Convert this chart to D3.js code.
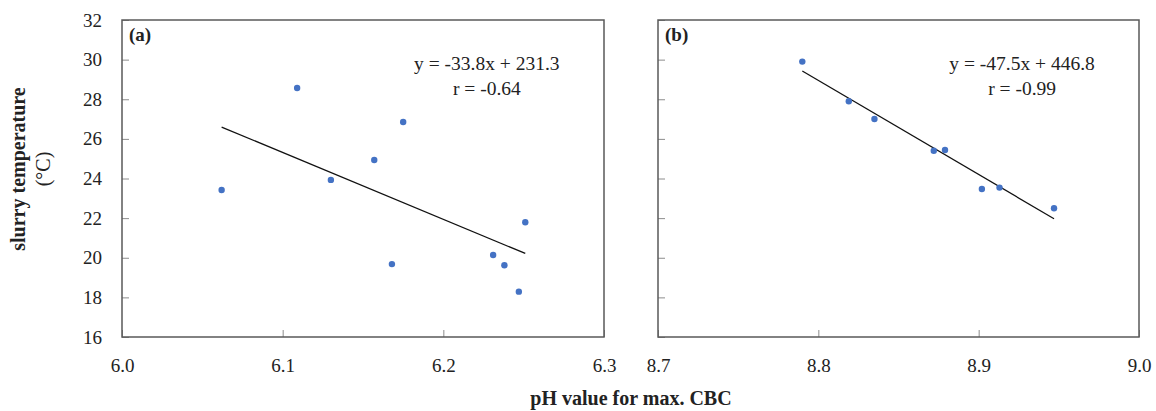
<!DOCTYPE html>
<html>
<head>
<meta charset="utf-8">
<script src="https://cdn.jsdelivr.net/npm/d3@7"></script>
<style>
  body { margin: 0; background: #fff; }
  text { font-family: "Liberation Serif", "Times New Roman", serif; fill: #222; }
</style>
</head>
<body>
<script>
// panel (a)
const phA = [6.062, 6.109, 6.130, 6.157, 6.175, 6.168, 6.231, 6.238, 6.251, 6.247];
const tempA = [23.42, 28.57, 23.93, 24.93, 26.85, 19.68, 20.14, 19.62, 21.79, 18.29];
// panel (b)
const phB = [8.790, 8.819, 8.835, 8.872, 8.879, 8.902, 8.913, 8.947];
const tempB = [29.90, 27.90, 27.00, 25.40, 25.44, 23.47, 23.54, 22.50];

const yTicks = [16, 18, 20, 22, 24, 26, 28, 30, 32];
const xTicksA = [6.0, 6.1, 6.2, 6.3];
const xTicksB = [8.7, 8.8, 8.9, 9.0];

const panels = [
  { tag: "(a)", xs: phA, ys: tempA, ticks: xTicksA, eq: "y = -33.8x + 231.3", r: "r = -0.64", left: 122, right: 604, showY: true },
  { tag: "(b)", xs: phB, ys: tempB, ticks: xTicksB, eq: "y = -47.5x + 446.8", r: "r = -0.99", left: 658, right: 1139, showY: false }
];

const plotTop = 20, plotBottom = 337;
const svg = d3.select("body").append("svg")
  .attr("width", 1156)
  .attr("height", 411);

const y = d3.scaleLinear().domain([16, 32]).range([plotBottom, plotTop]);

// least squares fit for the trend line
function fit(xs, ys) {
  const mx = d3.mean(xs), my = d3.mean(ys);
  let sxy = 0, sxx = 0;
  xs.forEach((v, i) => { sxy += (v - mx) * (ys[i] - my); sxx += (v - mx) * (v - mx); });
  const b = sxy / sxx;
  return { b: b, a: my - b * mx };
}

panels.forEach(function (p) {
  const x = d3.scaleLinear().domain([p.ticks[0], p.ticks[p.ticks.length - 1]]).range([p.left, p.right]);
  const g = svg.append("g");

  // y axis, ticks inside
  const ya = g.append("g")
    .attr("transform", `translate(${p.left},0)`)
    .call(d3.axisLeft(y).tickValues(yTicks).tickSize(-7).tickPadding(20)
      .tickFormat(p.showY ? d3.format("d") : ""));
  ya.select(".domain").remove();
  ya.selectAll("line").attr("stroke", "#8c8c8c");
  ya.selectAll("text").style("font-size", "19px").attr("fill", "#222");

  const xa = g.append("g")
    .attr("transform", `translate(0,${plotBottom})`)
    .call(d3.axisBottom(x).tickValues(p.ticks).tickSize(-7).tickPadding(22).tickFormat(d3.format(".1f")));
  xa.select(".domain").remove();
  xa.selectAll("line").attr("stroke", "#8c8c8c");
  xa.selectAll("text").style("font-size", "19px").attr("fill", "#222");

  // frame
  g.append("rect")
    .attr("x", p.left).attr("y", plotTop)
    .attr("width", p.right - p.left).attr("height", plotBottom - plotTop)
    .attr("fill", "none")
    .attr("stroke", "#595959")
    .attr("stroke-width", 1.5);

  // trend line
  const f = fit(p.xs, p.ys);
  const x0 = d3.min(p.xs), x1 = d3.max(p.xs);
  g.append("line")
    .attr("x1", x(x0)).attr("y1", y(f.a + f.b * x0))
    .attr("x2", x(x1)).attr("y2", y(f.a + f.b * x1))
    .attr("stroke", "#111")
    .attr("stroke-width", 1.3);

  // points
  g.selectAll("circle")
    .data(p.xs)
    .enter().append("circle")
    .attr("cx", d => x(d))
    .attr("cy", (d, i) => y(p.ys[i]))
    .attr("r", 3.2)
    .attr("fill", "#4472c4");

  g.append("text")
    .attr("x", p.left + 7).attr("y", 41)
    .style("font-size", "19px").style("font-weight", "bold")
    .text(p.tag);

  const cx = p.left + (p.right - p.left) * 0.757;
  g.append("text")
    .attr("x", cx).attr("y", 70)
    .attr("text-anchor", "middle")
    .style("font-size", "19.5px")
    .text(p.eq);
  g.append("text")
    .attr("x", cx).attr("y", 95)
    .attr("text-anchor", "middle")
    .style("font-size", "19.5px")
    .text(p.r);
});

// axis titles
svg.append("text")
  .attr("transform", "translate(25,169) rotate(-90)")
  .attr("text-anchor", "middle")
  .style("font-size", "20px").style("font-weight", "bold")
  .text("slurry temperature");
svg.append("text")
  .attr("transform", "translate(50,169) rotate(-90)")
  .attr("text-anchor", "middle")
  .style("font-size", "20px")
  .text("(°C)");

svg.append("text")
  .attr("x", 631).attr("y", 405)
  .attr("text-anchor", "middle")
  .style("font-size", "20px").style("font-weight", "bold")
  .text("pH value for max. CBC");
</script>
</body>
</html>
